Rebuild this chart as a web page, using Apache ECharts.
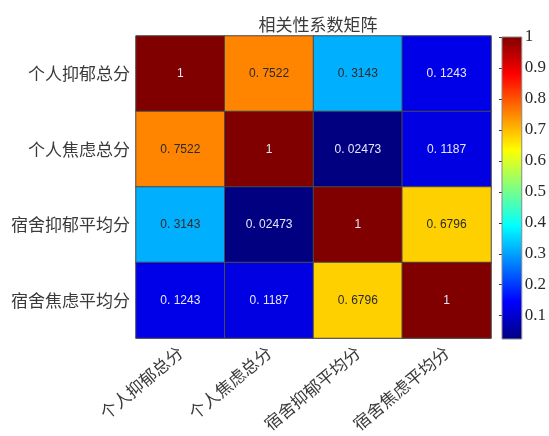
<!DOCTYPE html>
<html>
<head>
<meta charset="utf-8">
<script src="https://cdn.jsdelivr.net/npm/echarts@6/dist/echarts.min.js"></script>
<style>
  html, body { margin: 0; padding: 0; background: #fff; }
  #chart { width: 549px; height: 436px; }
</style>
</head>
<body>
<div id="chart"></div>
<script>
// Variables of the correlation matrix
const variables = ['个人抑郁总分', '个人焦虑总分', '宿舍抑郁平均分', '宿舍焦虑平均分'];

// Correlation coefficients, one row per variable
const row1 = [1, 0.7522, 0.3143, 0.1243];
const row2 = [0.7522, 1, 0.02473, 0.1187];
const row3 = [0.3143, 0.02473, 1, 0.6796];
const row4 = [0.1243, 0.1187, 0.6796, 1];
const corr = [row1, row2, row3, row4];

// Colorbar tick labels
const colorbarTicks = [0.1, 0.2, 0.3, 0.4, 0.5, 0.6, 0.7, 0.8, 0.9, 1];

// Jet colormap, evenly spaced stops
const jet = ['#000080', '#0000ff', '#0080ff', '#00ffff', '#80ff80',
             '#ffff00', '#ff8000', '#ff0000', '#800000'];

const flat = corr.flat();
const cMin = Math.min(...flat);
const cMax = Math.max(...flat);

const cells = [];
corr.forEach((row, r) => {
  row.forEach((v, c) => {
    const dark = v > 0.2 && v < 0.85;
    cells.push({
      value: [c, r, v],
      label: { color: dark ? '#2a2a2a' : '#e6e6ff' }
    });
  });
});

const chart = echarts.init(document.getElementById('chart'), null, { renderer: 'canvas' });

const serif = '"Liberation Serif", "DejaVu Serif", serif';
const cjk = '"Noto Sans CJK SC", sans-serif';

chart.setOption({
  animation: false,
  title: {
    text: '相关性系数矩阵',
    left: 313,
    textAlign: 'center',
    top: 11,
    textStyle: { fontFamily: cjk, fontSize: 17, fontWeight: 'normal', color: '#3a3a3a' }
  },
  grid: [
    { left: 136, top: 36, width: 355, height: 302 },
    { left: 502, top: 37, width: 20, height: 302 }
  ],
  xAxis: [
    {
      gridIndex: 0,
      type: 'category',
      data: variables,
      axisLine: { show: true, lineStyle: { color: '#888' } },
      axisTick: { show: false },
      splitLine: { show: false },
      axisLabel: {
        interval: 0,
        rotate: 40,
        margin: 12,
        fontFamily: cjk,
        fontSize: 17,
        color: '#3a3a3a'
      }
    },
    {
      gridIndex: 1,
      type: 'value',
      min: 0,
      max: 1,
      show: false
    }
  ],
  yAxis: [
    {
      gridIndex: 0,
      type: 'category',
      data: variables,
      inverse: true,
      axisLine: { show: true, lineStyle: { color: '#888' } },
      axisTick: { show: false },
      splitLine: { show: false },
      axisLabel: {
        margin: 6,
        fontFamily: cjk,
        fontSize: 17,
        color: '#3a3a3a'
      }
    },
    {
      gridIndex: 1,
      type: 'value',
      position: 'right',
      min: cMin,
      max: cMax,
      axisLine: { show: false },
      splitLine: { show: false },
      axisTick: {
        show: true,
        inside: true,
        length: 3,
        customValues: colorbarTicks,
        lineStyle: { color: '#333' }
      },
      axisLabel: {
        margin: 3,
        customValues: colorbarTicks,
        formatter: v => String(v),
        fontFamily: serif,
        fontSize: 17,
        color: '#2a2a2a'
      }
    }
  ],
  visualMap: {
    show: false,
    type: 'continuous',
    seriesIndex: 0,
    dimension: 2,
    min: cMin,
    max: cMax,
    inRange: { color: jet }
  },
  series: [
    {
      type: 'heatmap',
      xAxisIndex: 0,
      yAxisIndex: 0,
      data: cells,
      itemStyle: { borderColor: '#4a4a4a', borderWidth: 1 },
      label: {
        show: true,
        fontFamily: '"Liberation Sans", sans-serif',
        fontSize: 12,
        formatter: p => String(p.value[2]).replace('.', '. ')
      },
      emphasis: { disabled: true }
    },
    {
      // colorbar drawn over the value range of the matrix
      type: 'custom',
      xAxisIndex: 1,
      yAxisIndex: 1,
      data: [[0, 1, cMin, cMax]],
      renderItem: (params, api) => {
        const p0 = api.coord([api.value(0), api.value(3)]);
        const p1 = api.coord([api.value(1), api.value(2)]);
        return {
          type: 'rect',
          shape: { x: p0[0], y: p0[1], width: p1[0] - p0[0], height: p1[1] - p0[1] },
          style: {
            fill: new echarts.graphic.LinearGradient(0, 1, 0, 0,
              jet.map((c, i) => ({ offset: i / (jet.length - 1), color: c }))),
            stroke: '#888',
            lineWidth: 1
          }
        };
      },
      silent: true
    }
  ]
});
</script>
</body>
</html>
